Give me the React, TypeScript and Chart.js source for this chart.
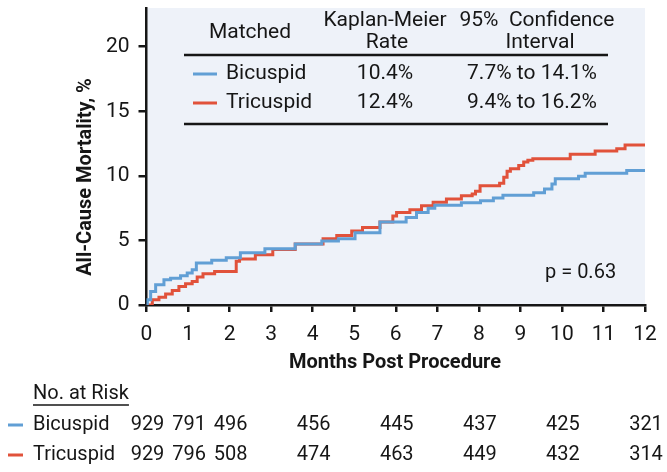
import React, { useEffect, useRef } from 'react';
import { Chart, registerables } from 'chart.js';

Chart.register(...registerables);

// ---- data ----
const bicuspidMonths = [0, 0.02, 0.1, 0.22, 0.42, 0.58, 0.82, 0.98, 1.1, 1.2, 1.57, 1.92, 2.26, 2.85, 3.58, 4.22, 4.62, 5.02, 5.62, 6.25, 6.5, 6.78, 6.94, 7.58, 8.04, 8.35, 8.58, 9.32, 9.58, 9.76, 9.84, 10.4, 10.56, 11.56, 12];
const bicuspidRates = [0, 0.4, 1.04, 1.56, 1.95, 2.08, 2.27, 2.47, 2.73, 3.26, 3.46, 3.65, 4.04, 4.35, 4.72, 4.95, 5.13, 5.6, 6.43, 6.77, 7.16, 7.5, 7.73, 7.92, 8.07, 8.28, 8.5, 8.7, 8.98, 9.37, 9.77, 9.97, 10.2, 10.42, 10.42];

const tricuspidMonths = [0, 0.14, 0.3, 0.46, 0.62, 0.78, 0.94, 1.1, 1.22, 1.36, 1.64, 2.16, 2.24, 2.62, 3.04, 3.58, 4.25, 4.58, 4.94, 5.2, 5.62, 5.93, 6.02, 6.34, 6.62, 6.9, 7.22, 7.58, 7.84, 7.92, 8.03, 8.5, 8.6, 8.68, 8.76, 8.96, 9.08, 9.18, 9.3, 10.2, 10.8, 11.32, 11.52, 12];
const tricuspidRates = [0, 0.4, 0.6, 0.86, 1.12, 1.43, 1.64, 1.82, 2.16, 2.42, 2.6, 3.38, 3.57, 3.9, 4.3, 4.72, 5.13, 5.39, 5.73, 6.0, 6.43, 6.9, 7.16, 7.37, 7.68, 7.95, 8.2, 8.46, 8.6, 8.8, 9.24, 9.42, 9.9, 10.36, 10.55, 10.8, 11.07, 11.2, 11.33, 11.67, 11.93, 12.1, 12.4, 12.4];

const groupNames = ['Bicuspid', 'Tricuspid'];
const kmRates = ['10.4%', '12.4%'];
const ciRanges = ['7.7% to 14.1%', '9.4% to 16.2%'];
const pValueText = 'p = 0.63';

const riskMonths = [0, 1, 2, 4, 6, 8, 10, 12];
const bicuspidAtRisk = [929, 791, 496, 456, 445, 437, 425, 321];
const tricuspidAtRisk = [929, 796, 508, 474, 463, 449, 432, 314];

const yTitle = 'All-Cause Mortality, %';
const xTitle = 'Months Post Procedure';

// ---- styles ----
const BLUE = '#619fd5';
const RED = '#e1523b';
const INK = '#161616';
const BG = '#eef2f9';
const FONT = 'Roboto, "Open Sans", sans-serif';

const overlayPlugin = {
  id: 'overlay',
  beforeDraw(chart: any) {
    const { ctx, chartArea } = chart;
    ctx.save();
    ctx.fillStyle = BG;
    ctx.fillRect(chartArea.left, chartArea.top, chartArea.right - chartArea.left, chartArea.bottom - chartArea.top);
    ctx.restore();
  },
  afterDraw(chart: any) {
    const { ctx } = chart;
    const xs = chart.scales.x;
    ctx.save();
    ctx.fillStyle = INK;
    ctx.textBaseline = 'middle';

    // axis titles
    ctx.font = `bold 20px ${FONT}`;
    ctx.textAlign = 'center';
    ctx.fillText(xTitle, 395, 363);
    ctx.save();
    ctx.translate(86, 177);
    ctx.rotate(-Math.PI / 2);
    ctx.fillText(yTitle, 0, 0);
    ctx.restore();

    // legend table
    ctx.font = `21px ${FONT}`;
    ctx.textAlign = 'center';
    ctx.fillText('Matched', 250, 33);
    ctx.fillText('Kaplan-Meier', 385, 21);
    ctx.fillText('Rate', 387, 43);
    ctx.fillText('95%  Confidence', 537, 21);
    ctx.fillText('Interval', 540, 43);
    ctx.strokeStyle = INK;
    ctx.lineWidth = 2.5;
    ctx.beginPath();
    ctx.moveTo(184, 55);
    ctx.lineTo(608, 55);
    ctx.moveTo(184, 124);
    ctx.lineTo(608, 124);
    ctx.stroke();
    const rowY = [74, 103];
    const colors = [BLUE, RED];
    for (let i = 0; i < 2; i++) {
      ctx.strokeStyle = colors[i];
      ctx.lineWidth = 3;
      ctx.beginPath();
      ctx.moveTo(193, rowY[i]);
      ctx.lineTo(217, rowY[i]);
      ctx.stroke();
      ctx.textAlign = 'left';
      ctx.fillText(groupNames[i], 226, rowY[i]);
      ctx.textAlign = 'center';
      ctx.fillText(kmRates[i], 385, rowY[i]);
      ctx.fillText(ciRanges[i], 532, rowY[i]);
    }

    // p value
    ctx.textAlign = 'left';
    ctx.font = `20px ${FONT}`;
    ctx.fillText(pValueText, 545, 273);

    // risk table
    ctx.font = `20px ${FONT}`;
    ctx.textAlign = 'left';
    ctx.fillText('No. at Risk', 33, 394);
    const w = ctx.measureText('No. at Risk').width;
    ctx.strokeStyle = INK;
    ctx.lineWidth = 1.5;
    ctx.beginPath();
    ctx.moveTo(33, 405);
    ctx.lineTo(33 + w, 405);
    ctx.stroke();
    const riskY = [425, 455];
    const riskRows = [bicuspidAtRisk, tricuspidAtRisk];
    for (let i = 0; i < 2; i++) {
      ctx.strokeStyle = colors[i];
      ctx.lineWidth = 3;
      ctx.beginPath();
      ctx.moveTo(8, riskY[i]);
      ctx.lineTo(23, riskY[i]);
      ctx.stroke();
      ctx.fillStyle = INK;
      ctx.font = `20px ${FONT}`;
      ctx.textAlign = 'left';
      ctx.fillText(groupNames[i], 33, riskY[i]);
      ctx.textAlign = 'center';
      riskRows[i].forEach((v, j) => {
        ctx.fillText(String(v), xs.getPixelForValue(riskMonths[j]) + 1, riskY[i]);
      });
    }
    ctx.restore();
  },
};

export default function App() {
  const ref = useRef<HTMLCanvasElement | null>(null);
  useEffect(() => {
    if (!ref.current) return;
    const toPts = (xs: number[], ys: number[]) => xs.map((x, i) => ({ x, y: ys[i] }));
    const chart = new Chart(ref.current, {
      type: 'line',
      data: {
        datasets: [
          {
            label: 'Bicuspid',
            data: toPts(bicuspidMonths, bicuspidRates),
            borderColor: BLUE,
            borderWidth: 3,
            pointRadius: 0,
            stepped: true,
            fill: false,
          },
          {
            label: 'Tricuspid',
            data: toPts(tricuspidMonths, tricuspidRates),
            borderColor: RED,
            borderWidth: 3,
            pointRadius: 0,
            stepped: true,
            fill: false,
          },
        ],
      },
      options: {
        animation: false,
        responsive: false,
        devicePixelRatio: 1,
        layout: { padding: { top: 8, right: 22, left: 0, bottom: 0 } },
        plugins: { legend: { display: false }, tooltip: { enabled: false } },
        scales: {
          x: {
            type: 'linear',
            min: 0,
            max: 12,
            ticks: { stepSize: 1, color: INK, font: { family: FONT, size: 21 }, padding: 10, maxRotation: 0 },
            grid: { drawOnChartArea: false, drawTicks: true, tickLength: 7, tickWidth: 2.5, tickColor: INK, color: INK, lineWidth: 2.5 },
            border: { display: true, color: INK, width: 2.5 },
            afterFit: (s: any) => { s.height = 167; },
          },
          y: {
            type: 'linear',
            min: 0,
            max: 23,
            ticks: { stepSize: 5, includeBounds: false, color: INK, font: { family: FONT, size: 21 }, padding: 9 },
            grid: { drawOnChartArea: false, drawTicks: true, tickLength: 8, tickWidth: 2.5, tickColor: INK, color: INK, lineWidth: 2.5 },
            border: { display: true, color: INK, width: 2.5 },
            afterFit: (s: any) => { s.width = 146.5; s.paddingTop = 0; s.paddingBottom = 0; },
          },
        },
      },
      plugins: [overlayPlugin],
    } as any);
    return () => chart.destroy();
  }, []);
  return (
    <div style={{ position: 'absolute', left: 0, top: 0, width: 667, height: 472, background: '#fff' }}>
      <canvas ref={ref} width={667} height={472} style={{ display: 'block' }} />
    </div>
  );
}
